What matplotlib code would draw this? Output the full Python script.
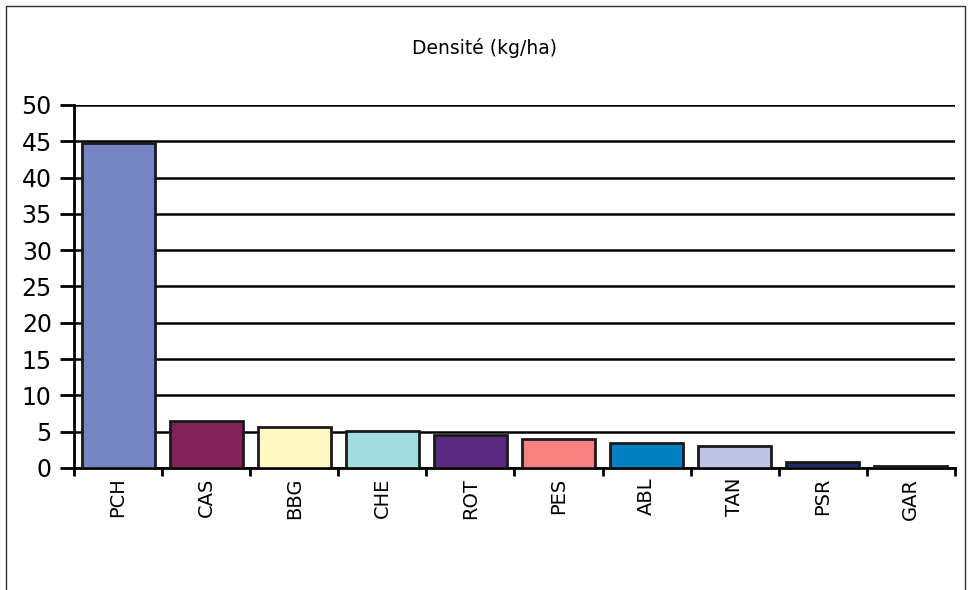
import numpy as np
import matplotlib
matplotlib.use('Agg')
import matplotlib.pyplot as plt
from matplotlib.patches import Rectangle

# Densite par espece
especes = ['PCH', 'CAS', 'BBG', 'CHE', 'ROT', 'PES', 'ABL', 'TAN', 'PSR', 'GAR']
densite = [44.8, 6.5, 5.7, 5.1, 4.6, 4.0, 3.5, 3.0, 0.8, 0.3]
couleurs = ['#7585C4', '#82205A', '#FFF8C0', '#A0DCE0', '#5A2A80',
            '#F88080', '#0080C0', '#C0C4E4', '#1E2A6A', '#2A2A2A']

fig = plt.figure(figsize=(9.69, 5.9), dpi=100)
ax = fig.add_axes([0.0764, 0.2068, 0.909, 0.6153])

# cadre autour de la figure
fig.patches.append(Rectangle((0.006, -0.01), 0.99, 1.0, transform=fig.transFigure,
                             fill=False, edgecolor='#333333', linewidth=1.0))

x = np.arange(len(especes)) + 0.5
ax.bar(x, densite, width=0.83, color=couleurs, edgecolor='#1a1a1a', linewidth=2, zorder=3)

ax.set_xlim(0, len(especes))
ax.set_ylim(0, 50)
ax.set_yticks(np.arange(0, 51, 5))
ax.yaxis.grid(True, color='black', linewidth=1.8, zorder=0)
ax.set_axisbelow(True)

ax.set_xticks(np.arange(0, len(especes) + 1))
ax.set_xticklabels([])
ax.set_xticks(x, minor=True)
ax.set_xticklabels(especes, minor=True, rotation=90, fontsize=14)
ax.tick_params(axis='x', which='minor', length=0, pad=7)
ax.tick_params(axis='x', which='major', length=6, width=2, direction='out')
ax.tick_params(axis='y', length=10, width=2, labelsize=17, pad=6)

for s in ['top', 'right']:
    ax.spines[s].set_visible(False)
for s in ['left', 'bottom']:
    ax.spines[s].set_linewidth(2)

fig.text(0.5, 0.918, 'Densité (kg/ha)', ha='center', va='center', fontsize=13.5)

plt.savefig('out.png', dpi=100)
